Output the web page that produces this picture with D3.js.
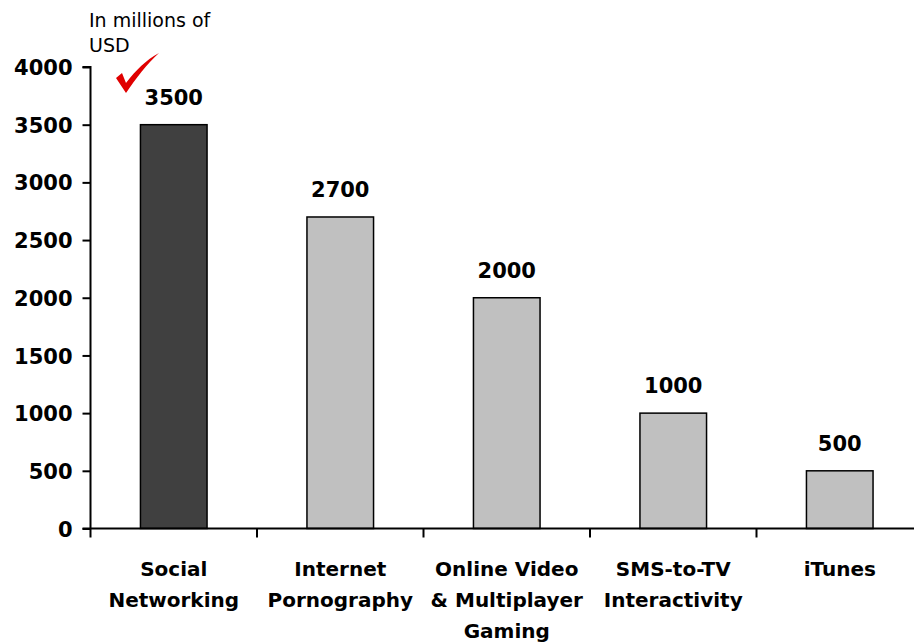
<!DOCTYPE html>
<html>
<head>
<meta charset="utf-8">
<script src="https://cdn.jsdelivr.net/npm/d3@7"></script>
<style>
  body { margin: 0; background: #fff; }
  svg text { font-family: "DejaVu Sans", Verdana, sans-serif; fill: #000; }
</style>
</head>
<body>
<div class="visArea"></div>
<script>
// Chart data
var categories = ['Social Networking', 'Internet Pornography', 'Online Video & Multiplayer Gaming', 'SMS-to-TV Interactivity', 'iTunes'];
var categoryLines = [['Social', 'Networking'], ['Internet', 'Pornography'], ['Online Video', '& Multiplayer', 'Gaming'], ['SMS-to-TV', 'Interactivity'], ['iTunes']];
var values = [3500, 2700, 2000, 1000, 500];
var yTicks = [0, 500, 1000, 1500, 2000, 2500, 3000, 3500, 4000];
var unitNote = ['In millions of', 'USD'];

// Set up size
var width = 914;
var height = 644;
var margin = {left: 90.5, right: -9, top: 67, bottom: 115.5};

var svg = d3.select('.visArea')
  .append('svg')
  .attr('width', width)
  .attr('height', height);

var x = d3.scaleBand()
  .domain(categories)
  .range([margin.left, width - margin.right])
  .paddingInner(0.6)
  .paddingOuter(0.3);

// outer edges of bands (used for the category ticks)
var band = d3.scaleBand()
  .domain(categories)
  .range([margin.left, width - margin.right]);

var y = d3.scaleLinear()
  .domain([0, 4000])
  .range([height - margin.bottom, margin.top]);

// Bars
svg.selectAll('.bar')
  .data(values)
  .enter()
  .append('rect')
  .attr('class', 'bar')
  .attr('x', (d, i) => x(categories[i]))
  .attr('y', d => y(d))
  .attr('width', x.bandwidth())
  .attr('height', d => y(0) - y(d))
  .style('fill', (d, i) => i === 0 ? '#404040' : '#c0c0c0')
  .style('stroke', '#000')
  .style('stroke-width', 1.5);

// Value labels
svg.selectAll('.valueLabel')
  .data(values)
  .enter()
  .append('text')
  .attr('class', 'valueLabel')
  .attr('x', (d, i) => x(categories[i]) + x.bandwidth() / 2)
  .attr('y', d => y(d) - 20)
  .attr('text-anchor', 'middle')
  .style('font-size', '21px')
  .style('font-weight', 'bold')
  .text(d => d);

// Y axis
var yAxis = svg.append('g')
  .attr('transform', 'translate(' + margin.left + ',0)')
  .call(d3.axisLeft(y).tickValues(yTicks).tickSize(8).tickPadding(10).tickFormat(d3.format('d')));
yAxis.selectAll('path, line').style('stroke', '#000').style('stroke-width', 2);
yAxis.select('.domain').attr('d', 'M-8,' + y(4000) + 'H0V' + y(0));
yAxis.selectAll('text')
  .style('font-size', '21px')
  .style('font-weight', 'bold')
  .style('font-family', '"DejaVu Sans", Verdana, sans-serif')
  .attr('dy', '0.36em');

// X axis line
svg.append('line')
  .attr('x1', margin.left - 8)
  .attr('x2', width)
  .attr('y1', y(0))
  .attr('y2', y(0))
  .style('stroke', '#000')
  .style('stroke-width', 2);

// Category ticks at band edges
svg.selectAll('.catTick')
  .data(categories)
  .enter()
  .append('line')
  .attr('class', 'catTick')
  .attr('x1', d => band(d))
  .attr('x2', d => band(d))
  .attr('y1', y(0))
  .attr('y2', y(0) + 9)
  .style('stroke', '#000')
  .style('stroke-width', 2);

// Category labels
var catLabels = svg.selectAll('.catLabel')
  .data(categoryLines)
  .enter()
  .append('text')
  .attr('class', 'catLabel')
  .attr('text-anchor', 'middle')
  .style('font-size', '20px')
  .style('font-weight', 'bold');

catLabels.selectAll('tspan')
  .data((d, i) => d.map(line => ({line: line, cx: band(categories[i]) + band.bandwidth() / 2})))
  .enter()
  .append('tspan')
  .attr('x', d => d.cx)
  .attr('y', (d, j) => y(0) + 47 + j * 31)
  .text(d => d.line);

// Unit note
svg.append('text')
  .style('font-size', '19px')
  .selectAll('tspan')
  .data(unitNote)
  .enter()
  .append('tspan')
  .attr('x', 89)
  .attr('y', (d, i) => 27 + i * 25)
  .text(d => d);

// Red check mark
svg.append('path')
  .attr('d', 'M116,78 L122,73 L126,83 C136,70 146,60 159,53 C147,64 136,78 126,93 Z')
  .style('fill', '#e00000');
</script>
</body>
</html>
